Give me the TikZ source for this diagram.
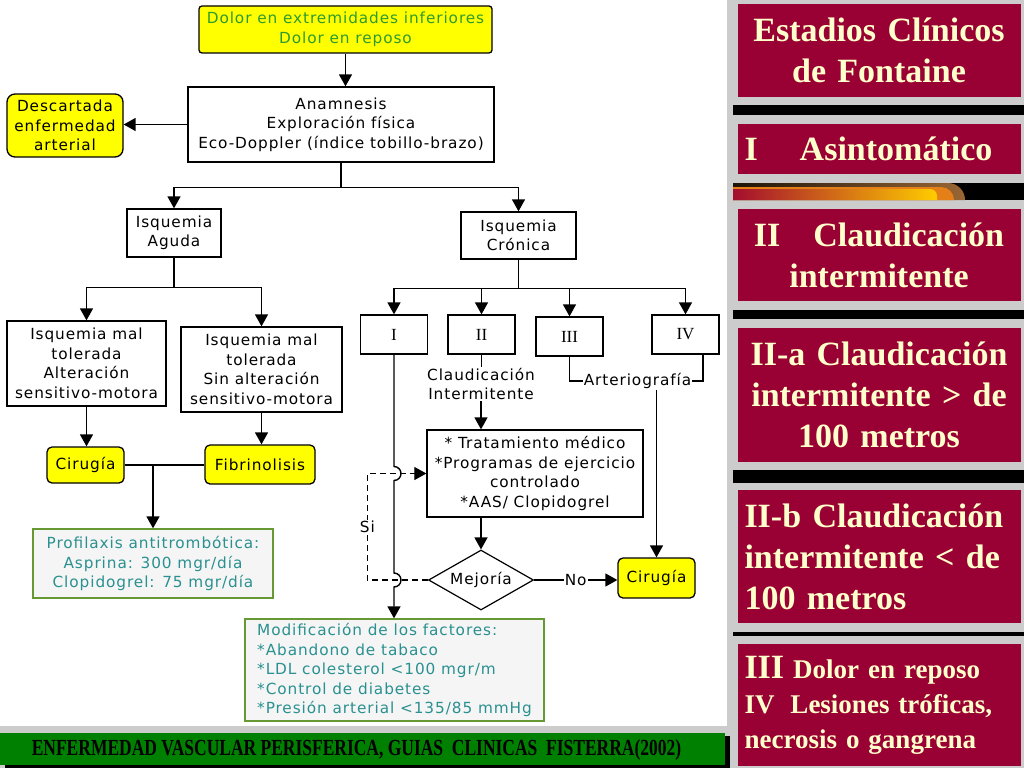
\documentclass[tikz,border=0pt]{standalone}
\usepackage{fontspec}
\setmainfont{Liberation Serif}
\newfontfamily\flowfont[LetterSpace=6]{DejaVu Sans}
\usepackage{graphicx}
\usetikzlibrary{shapes.geometric,arrows.meta,positioning}
\definecolor{ptyellow}{HTML}{FFFF00}
\definecolor{dolorgreen}{HTML}{2E9B2E}
\definecolor{noteteal}{HTML}{2A9090}
\definecolor{noteedge}{HTML}{669933}
\definecolor{notefill}{HTML}{F5F5F5}
\definecolor{crimson}{HTML}{990033}
\definecolor{cream}{HTML}{FFFFCC}
\definecolor{panelgray}{HTML}{CCCCCC}
\definecolor{footgreen}{HTML}{008000}

\begin{document}
\begin{tikzpicture}[x=1pt, y=1pt,
    box/.style={rectangle, draw, line width=1.3pt, fill=white, align=center, inner sep=2pt, font=\flowfont\fontsize{15.3}{19.5}\selectfont},
    hilite/.style={box, fill=ptyellow, rounded corners=5pt},
    note/.style={box, draw=noteedge, fill=notefill, text=noteteal},
    stage/.style={box, font=\fontsize{17}{19}\selectfont, minimum width=67pt, minimum height=39pt},
    decision/.style={diamond, draw, line width=1.2pt, fill=white, aspect=1.75, inner sep=0pt, font=\flowfont\fontsize{15.3}{19.5}\selectfont},
    tag/.style={inner sep=1pt, align=center, font=\flowfont\fontsize{15.3}{19.5}\selectfont},
    panel/.style={rectangle, fill=crimson, text=cream, minimum width=283pt, text width=269pt, inner sep=7pt, font=\bfseries\fontsize{34}{41}\selectfont},
    arrow/.style={-{Triangle[length=12pt,width=13pt]}, line width=1.4pt},
    link/.style={line width=1.4pt},
    hop/.style={dash pattern=on 6pt off 4pt, line width=1.1pt},
]
    % Background
    \useasboundingbox (0,0) rectangle (1024,-768);
    \fill[panelgray] (0,0) rectangle (1024,-768);
    \fill[white] (0,0) rectangle (727,-726);

    % Footer
    \fill[black] (5,-736) rectangle (730,-768);
    \fill[footgreen] (0,-733) rectangle (725,-765);
    \node (footer) at (356.5,-749.5) {\scalebox{0.76}[1]{\fontsize{23}{23}\selectfont\bfseries ENFERMEDAD VASCULAR PERISFERICA, GUIAS\ \ CLINICAS\ \ FISTERRA(2002)}};

    % Right panel - separator bars
    \fill[black] (733,-105) rectangle (1024,-115);
    \fill[black] (733,-183) rectangle (1024,-200);
    \shade[left color=black!85!brown, right color=brown!80!black] (733,-183) -- (948,-183) arc[start angle=90, end angle=0, radius=17pt] -- (965,-200) -- (733,-200) -- cycle;
    \fill[orange!60!brown] (733,-187) -- (941,-187) arc[start angle=90, end angle=0, radius=13pt] -- (954,-200) -- (733,-200) -- cycle;
    \shade[left color=crimson!90!orange, middle color=orange, right color=orange!40!yellow] (733,-189) -- (930,-189) arc[start angle=90, end angle=0, radius=7pt] -- (937,-200) -- (733,-200) -- cycle;
    \fill[black] (733,-310) rectangle (1024,-319);
    \fill[black] (733,-470) rectangle (1024,-483);
    \fill[black] (733,-632) rectangle (1024,-636);

    % Right panel - Fontaine stages
    \node[panel, align=center, minimum height=93pt] (title) at (879,-50.5) {Estadios Clínicos\\de Fontaine};
    \node[panel, align=left, minimum height=50pt] (asint) at (879,-149) {I\hspace{42pt}Asintomático};
    \node[panel, align=center, minimum height=92pt] (claudp) at (879,-255) {II\hspace{33pt}Claudicación\\intermitente};
    \node[panel, align=center, minimum height=134pt] (claudA) at (879,-395) {II-a Claudicación\\intermitente > de\\100 metros};
    \node[panel, align=left, minimum height=133pt] (claudB) at (879,-556.5) {II-b Claudicación\\intermitente < de\\100 metros};
    \node[panel, align=left, minimum height=122pt, font=\bfseries\fontsize{27}{35}\selectfont] (dolorp) at (879,-705) {{\fontsize{34}{35}\selectfont III} Dolor en reposo\\IV\hspace{16pt}Lesiones tróficas,\\necrosis o gangrena};

    % Entry
    \node[hilite, text=dolorgreen, minimum width=293pt, minimum height=47pt, rounded corners=3pt] (dolor) at (345.5,-29.5) {Dolor en extremidades inferiores\\Dolor en reposo};
    \node[box, minimum width=306pt, minimum height=75pt] (anam) at (341,-124.5) {Anamnesis\\Exploración física\\Eco-Doppler (índice tobillo-brazo)};
    \node[hilite, minimum width=116pt, minimum height=63pt, rounded corners=8pt] (descart) at (65,-125.5) {Descartada\\enfermedad\\arterial};

    % Acute branch
    \node[box, minimum width=94pt, minimum height=48pt] (aguda) at (174,-233) {Isquemia\\Aguda};
    \node[box, minimum width=159pt, minimum height=85pt] (malA) at (86.5,-363.5) {Isquemia mal\\tolerada\\Alteración\\sensitivo-motora};
    \node[box, minimum width=161pt, minimum height=85pt] (malB) at (261.5,-369.5) {Isquemia mal\\tolerada\\Sin alteración\\sensitivo-motora};
    \node[hilite, minimum width=77pt, minimum height=36pt] (ciruA) at (85.5,-465) {Cirugía};
    \node[hilite, minimum width=110pt, minimum height=39pt] (fibri) at (260,-464.5) {Fibrinolisis};
    \node[note, minimum width=240pt, minimum height=69pt] (profi) at (153,-563.5) {Profilaxis antitrombótica:\\Asprina: 300 mgr/día\\Clopidogrel: 75 mgr/día};

    % Chronic branch
    \node[box, minimum width=115pt, minimum height=47pt] (cronica) at (518.5,-235.5) {Isquemia\\Crónica};
    \node[stage] (stI) at (394,-334.5) {I};
    \node[stage] (stII) at (481.5,-334.5) {II};
    \node[stage] (stIII) at (569.5,-336.5) {III};
    \node[stage] (stIV) at (685.5,-334.5) {IV};
    \node[tag] (claud) at (481,-384) {Claudicación\\Intermitente};
    \node[tag] (arterio) at (637.5,-381) {Arteriografía};
    \node[box, minimum width=216pt, minimum height=87pt] (trat) at (535,-473.5) {* Tratamiento médico\\*Programas de ejercicio\\controlado\\*AAS/ Clopidogrel};
    \node[decision, minimum width=105pt, minimum height=60pt] (mejora) at (481,-580) {Mejoría};
    \node[hilite, minimum width=77pt, minimum height=40pt] (ciruB) at (656.5,-578) {Cirugía};
    \node[note, align=left, minimum width=299pt, minimum height=102pt] (modif) at (394.5,-670) {Modificación de los factores:\\*Abandono de tabaco\\*LDL colesterol <100 mgr/m\\*Control de diabetes\\*Presión arterial <135/85 mmHg};

    % Arrows - entry
    \draw[arrow] (dolor.south) -- (dolor.south |- anam.north);
    \draw[arrow] (anam.west) -- (anam.west -| descart.east);
    \coordinate (splitA) at ([yshift=-25pt]anam.south);
    \draw[link] (anam.south) -- (splitA);
    \draw[arrow] (splitA) -| (aguda.north);
    \draw[arrow] (splitA) -| (cronica.north);

    % Arrows - acute branch
    \coordinate (splitB) at ([yshift=-30pt]aguda.south);
    \draw[link] (aguda.south) -- (splitB);
    \draw[arrow] (splitB) -| (malA.north);
    \draw[arrow] (splitB) -| (malB.north);
    \draw[arrow] (malA.south) -- (malA.south |- ciruA.north);
    \draw[arrow] (malB.south) -- (malB.south |- fibri.north);
    \draw[link] (ciruA.east) -- (ciruA.east -| fibri.west);
    \coordinate (joinC) at (ciruA.east -| profi.north);
    \draw[arrow] (joinC) -- (profi.north);

    % Arrows - chronic branch
    \coordinate (splitC) at ([yshift=-29pt]cronica.south);
    \draw[link] (cronica.south) -- (splitC);
    \foreach \s in {stI,stII,stIII,stIV}
        \draw[arrow] (splitC) -| (\s.north);
    \draw[link] (stII.south) -- (stII.south |- claud.north);
    \draw[arrow] (claud.south) -- (claud.south |- trat.north);
    \draw[link] (stIII.south) |- (arterio.west);
    \coordinate (ivfoot) at ([xshift=17.5pt]stIV.south);
    \draw[link] (arterio.east) -| (ivfoot);
    \draw[arrow] (arterio.south -| ciruB.north) -- (ciruB.north);
    \draw[arrow] (trat.south -| mejora.north) -- (mejora.north);
    \draw[arrow] (mejora.east) -- node[tag, fill=white] {No} (mejora.east -| ciruB.west);

    % Si loop back to treatment
    \coordinate (siturn) at ([xshift=-59pt]trat.west);
    \draw[hop, -{Triangle[length=12pt,width=13pt]}] (mejora.west) -| node[pos=0.75, tag, fill=white] {Si} (siturn) -- (trat.west);

    % Stage I line, hopping over the dashed loop
    \coordinate (hopA) at (stI |- trat.west);
    \coordinate (hopB) at (stI |- mejora.west);
    \draw[arrow] (stI.south) -- ([yshift=7pt]hopA) arc[start angle=90, end angle=-90, radius=7pt] -- ([yshift=7pt]hopB) arc[start angle=90, end angle=-90, radius=7pt] -- (stI.south |- modif.north);
\end{tikzpicture}
\end{document}
